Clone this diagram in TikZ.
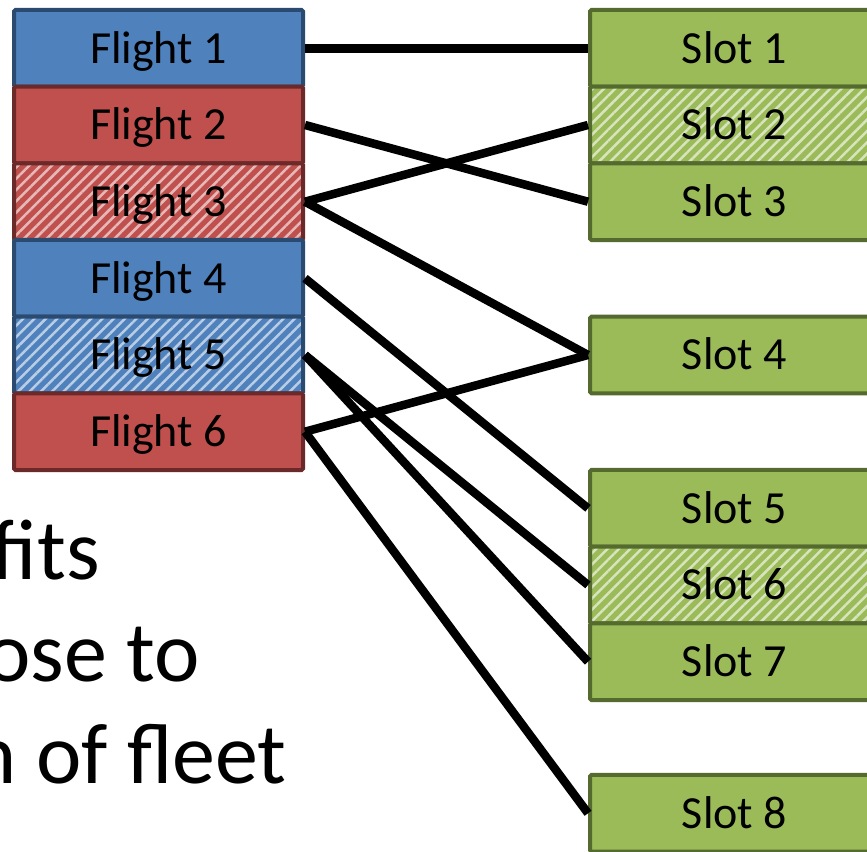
\documentclass[tikz,border=0pt]{standalone}
\usepackage{fontspec}
\setmainfont{Carlito}
\usetikzlibrary{patterns.meta}

\definecolor{fblue}{HTML}{4F81BD}
\definecolor{dblue}{HTML}{2B4A6F}
\definecolor{fred}{HTML}{C0504D}
\definecolor{dred}{HTML}{6B2A29}
\definecolor{fgreen}{HTML}{9BBB59}
\definecolor{dgreen}{HTML}{546A2E}

\tikzset{
  cell/.style={line width=4pt, rounded corners=1.5pt, minimum width=289pt,
    minimum height=76.67pt, inner sep=0pt, text height=29.6pt, text depth=0pt,
    font=\fontsize{46}{55}\selectfont},
  plain/.style 2 args={cell, fill=#1, draw=#2},
  hatched/.style 2 args={cell, draw=#2, preaction={fill=#1},
    preaction={pattern={Lines[angle=45,distance=8pt,line width=2.5pt]},
      pattern color=#1!40!white}},
  link/.style={line width=8.5pt, black},
  bigtext/.style={inner sep=0pt, anchor=base east, font=\fontsize{86}{100}\selectfont}
}

\begin{document}
\begin{tikzpicture}[x=1pt,y=-1pt]
\useasboundingbox (0,0) rectangle (867,851);
\clip (0,0) rectangle (867,851);

% tail ends of the slide's body text
\node[bigtext] (t1) at (100,579) {fits};
\node[bigtext] (t2) at (200,681) {ose to};
\node[bigtext] (t3) at (287,783) {n of fleet};

% flights
\node[plain={fblue}{dblue}]   (f1) at (158.5,48.3)  {Flight 1};
\node[plain={fred}{dred}]     (f2) at (158.5,125.0) {Flight 2};
\node[hatched={fred}{dred}]   (f3) at (158.5,201.7) {Flight 3};
\node[plain={fblue}{dblue}]   (f4) at (158.5,278.3) {Flight 4};
\node[hatched={fblue}{dblue}] (f5) at (158.5,355.0) {Flight 5};
\node[plain={fred}{dred}]     (f6) at (158.5,431.7) {Flight 6};

% slots
\node[plain={fgreen}{dgreen}]   (s1) at (734.5,48.3)  {Slot 1};
\node[hatched={fgreen}{dgreen}] (s2) at (734.5,125.0) {Slot 2};
\node[plain={fgreen}{dgreen}]   (s3) at (734.5,201.7) {Slot 3};
\node[plain={fgreen}{dgreen}]   (s4) at (734.5,355.0) {Slot 4};
\node[plain={fgreen}{dgreen}]   (s5) at (734.5,508.3) {Slot 5};
\node[hatched={fgreen}{dgreen}] (s6) at (734.5,585.0) {Slot 6};
\node[plain={fgreen}{dgreen}]   (s7) at (734.5,661.7) {Slot 7};
\node[plain={fgreen}{dgreen}]   (s8) at (734.5,813.3) {Slot 8};

% assignments
\draw[link] (f1.east) -- (s1.west);
\draw[link] (f2.east) -- (s3.west);
\draw[link] (f3.east) -- (s2.west);
\draw[link] (f3.east) -- (s4.west);
\draw[link] (f4.east) -- (s5.west);
\draw[link] (f5.east) -- (s6.west);
\draw[link] (f5.east) -- (s7.west);
\draw[link] (f6.east) -- (s4.west);
\draw[link] (f6.east) -- (s8.west);
\end{tikzpicture}
\end{document}
